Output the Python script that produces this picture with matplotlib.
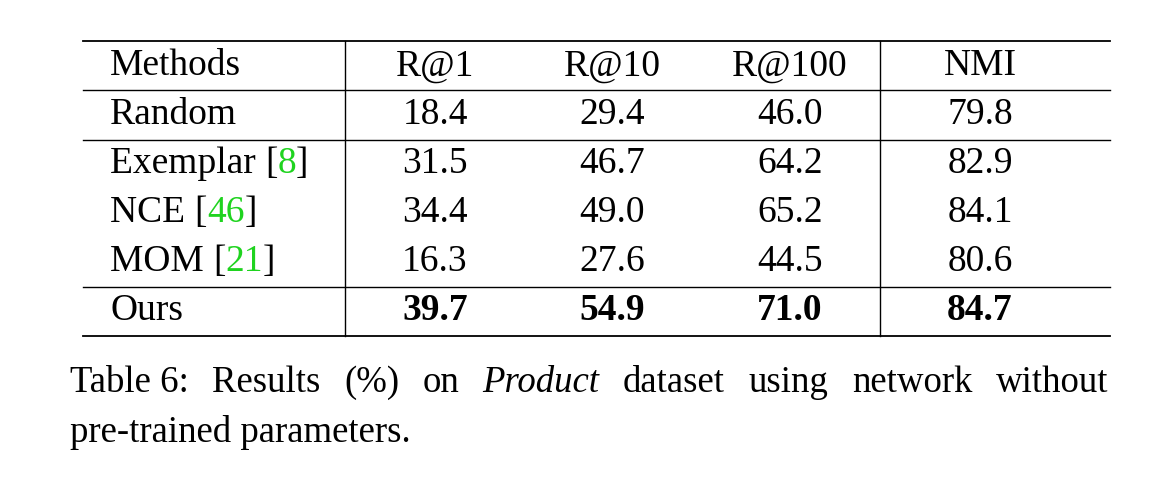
import matplotlib.pyplot as plt

plt.rcParams['font.family'] = ['Liberation Serif', 'DejaVu Serif']

# table data
columns = ['Methods', 'R@1', 'R@10', 'R@100', 'NMI']
methods = ['Random', 'Exemplar ', 'NCE ', 'MOM ', 'Ours']
refs = [None, '8', '46', '21', None]
r1 = ['18.4', '31.5', '34.4', '16.3', '39.7']
r10 = ['29.4', '46.7', '49.0', '27.6', '54.9']
r100 = ['46.0', '64.2', '65.2', '44.5', '71.0']
nmi = ['79.8', '82.9', '84.1', '80.6', '84.7']

W, H = 1161, 484
fig = plt.figure(figsize=(W / 100, H / 100), dpi=100)
ax = fig.add_axes([0, 0, 1, 1])
ax.set_xlim(0, W)
ax.set_ylim(H, 0)
ax.axis('off')
fig.canvas.draw()
renderer = fig.canvas.get_renderer()
green = '#1fd31f'
fs = 27
dy = 3  # visual centring offset


def run(x, y, parts, size=fs):
    # draw consecutive text pieces, returns end x
    for txt, kw in parts:
        t = ax.text(x, y + dy, txt, fontsize=size, va='center', ha='left', **kw)
        x += t.get_window_extent(renderer).width
    return x


def justify(x0, x1, y, words, size):
    # place words spread evenly between x0 and x1
    texts = [ax.text(0, y + dy, w, fontsize=size, va='center', ha='left', **kw)
             for w, kw in words]
    widths = [t.get_window_extent(renderer).width for t in texts]
    gap = (x1 - x0 - sum(widths)) / (len(texts) - 1)
    x = x0
    for t, w in zip(texts, widths):
        t.set_x(x)
        x += w + gap


# rules
for y, lw in [(41, 1.3), (90, 1.0), (140, 1.0), (287, 1.0), (336, 1.3)]:
    ax.plot([83, 1110], [y, y], color='black', lw=lw)
for x in [345, 880]:
    ax.plot([x, x], [41, 336], color='black', lw=1.0)

col_x = [435, 612, 790, 980]
row_y = [112, 161, 210, 259, 308]

ax.text(110, 63 + dy, columns[0], fontsize=fs, va='center', ha='left')
for cx, name in zip(col_x, columns[1:]):
    ax.text(cx, 63 + dy, name, fontsize=fs, va='center', ha='center')

for i, y in enumerate(row_y):
    parts = [(methods[i], {})]
    if refs[i]:
        parts += [('[', {}), (refs[i], {'color': green}), (']', {})]
    run(110, y, parts)
    bold = 'bold' if methods[i] == 'Ours' else 'normal'
    for cx, vals in zip(col_x, [r1, r10, r100, nmi]):
        ax.text(cx, y + dy, vals[i], fontsize=fs, va='center', ha='center',
                fontweight=bold)

# caption
cap = [('Table 6:', {}), ('Results', {}), ('(%)', {}), ('on', {}),
       ('Product', {'style': 'italic'}), ('dataset', {}), ('using', {}),
       ('network', {}), ('without', {})]
justify(70, 1108, 380, cap, 26.5)
run(70, 429, [('pre-trained parameters.', {})], size=26.5)

fig.savefig('out.png', dpi=100)
